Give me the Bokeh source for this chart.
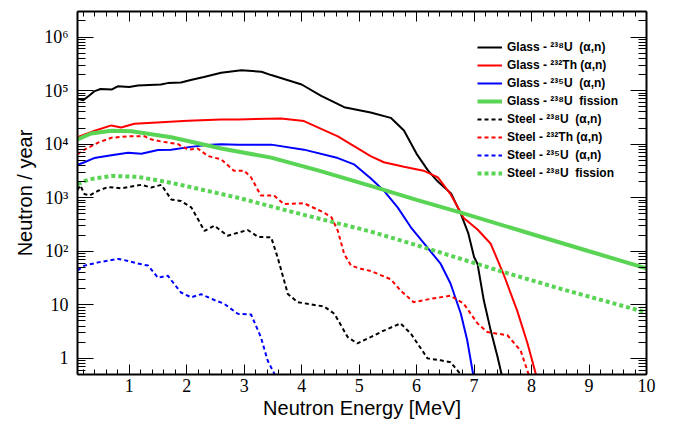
from bokeh.plotting import figure
from bokeh.models import (LogAxis, LinearAxis, FixedTicker, SingleIntervalTicker,
                          CustomJSTickFormatter, Legend, LegendItem, Range1d)
from bokeh.embed import file_html
from bokeh.resources import INLINE

# ---------------- data ----------------
x_limits = [0.1, 10.0]
y_limits = [0.5, 3.0e6]

y_major = [1, 10, 100, 1e3, 1e4, 1e5, 1e6]
y_minor = [m * 10.0 ** k for k in range(-1, 7) for m in range(2, 10)]

glass_u238_e = [0.1, 0.2, 0.3, 0.4, 0.5, 0.7, 0.8, 1.0, 1.15, 1.55, 1.67, 1.9, 2.07, 2.3, 2.6,
                2.95, 3.3, 3.47, 4.0, 4.34, 4.74, 5.2, 5.55, 5.78, 6.0, 6.2, 6.37, 6.6, 6.77,
                6.9, 7.0, 7.06, 7.17, 7.29, 7.41, 7.5]
glass_u238_n = [7.0e4, 6.6e4, 8.0e4, 9.8e4, 1.07e5, 1.05e5, 1.2e5, 1.17e5, 1.25e5, 1.3e5, 1.38e5,
                1.42e5, 1.58e5, 1.8e5, 2.15e5, 2.4e5, 2.25e5, 1.95e5, 1.3e5, 8.0e4, 4.9e4, 3.9e4,
                3.1e4, 1.8e4, 6.6e3, 3.2e3, 2.0e3, 1.2e3, 5.0e2, 2.15e2, 78, 58, 12, 3.3, 1.05, 0.4]

glass_th232_e = [0.1, 0.4, 0.69, 0.86, 1.09, 1.56, 2.02, 2.6, 2.89, 3.64, 4.04, 4.63, 5.2, 5.43,
                 5.78, 6.12, 6.37, 6.59, 6.82, 7.06, 7.29, 7.51, 7.75, 7.93, 8.04, 8.1]
glass_th232_n = [1.35e4, 1.78e4, 2.24e4, 2.04e4, 2.4e4, 2.57e4, 2.75e4, 2.9e4, 2.9e4, 3.0e4, 2.7e4,
                 1.4e4, 6.0e3, 4.6e3, 3.8e3, 3.2e3, 2.4e3, 1.17e3, 4.2e2, 2.55e2, 1.38e2, 38, 7.8,
                 1.9, 0.7, 0.4]

glass_u235_e = [0.1, 0.22, 0.39, 0.69, 0.98, 1.21, 1.5, 1.73, 2.07, 2.42, 2.6, 2.89, 3.47, 4.04,
                4.63, 4.91, 5.2, 5.43, 5.67, 5.9, 6.19, 6.42, 6.59, 6.77, 6.88, 7.0]
glass_u235_n = [4.1e3, 4.6e3, 5.5e3, 6.2e3, 6.9e3, 6.6e3, 7.8e3, 7.9e3, 8.9e3, 9.8e3, 1.0e4, 9.8e3,
                9.8e3, 7.9e3, 5.5e3, 4.2e3, 2.3e3, 1.35e3, 6.6e2, 2.8e2, 1.17e2, 58, 25, 6.8, 2.2, 0.4]

glass_fis_e = [0.1, 0.34, 0.69, 1.04, 1.73, 2.6, 3.47, 4.3, 5.2, 6.0, 6.77, 8.0, 9.0, 10.0]
glass_fis_n = [1.23e4, 1.58e4, 1.78e4, 1.74e4, 1.35e4, 8.3e3, 5.6e3, 3.2e3, 1.66e3, 9.1e2, 5.25e2,
               2.1e2, 1.0e2, 48]

steel_u238_e = [0.1, 0.15, 0.22, 0.31, 0.46, 0.63, 0.86, 1.21, 1.38, 1.56, 1.73, 1.9, 2.08, 2.31,
                2.48, 2.71, 3.06, 3.24, 3.47, 3.58, 3.76, 3.93, 4.39, 4.57, 4.8, 4.97, 5.2, 5.43,
                5.72, 5.9, 6.19, 6.42, 6.59, 6.77, 6.9]
steel_u238_n = [1.4e3, 1.7e3, 1.17e3, 1.1e3, 1.35e3, 1.58e3, 1.5e3, 1.74e3, 1.55e3, 1.74e3, 9.3e2,
                8.7e2, 6.6e2, 2.4e2, 3.0e2, 1.95e2, 2.5e2, 1.86e2, 1.82e2, 78, 16, 11.2, 9.3, 6.8,
                2.5, 1.9, 2.5, 3.3, 4.5, 2.9, 1.0, 0.92, 0.85, 0.5, 0.4]

steel_th232_e = [0.1, 0.22, 0.46, 0.69, 1.03, 1.26, 1.38, 1.56, 1.85, 2.02, 2.19, 2.37, 2.6, 2.82,
                 3.0, 3.12, 3.29, 3.52, 3.69, 4.04, 4.39, 4.52, 4.63, 4.74, 4.86, 5.03, 5.2, 5.55,
                 5.72, 5.95, 6.24, 6.59, 6.82, 7.06, 7.23, 7.58, 7.81, 7.98]
steel_th232_n = [6.5e3, 7.9e3, 1.07e4, 1.32e4, 1.41e4, 1.41e4, 1.23e4, 1.12e4, 1.0e4, 7.9e3, 8.3e3,
                 6.0e3, 5.2e3, 3.2e3, 3.2e3, 2.4e3, 1.1e3, 1.1e3, 7.6e2, 7.9e2, 5.25e2, 4.3e2,
                 2.4e2, 89, 54, 47, 43, 30, 18.6, 11.2, 12.9, 14.8, 10.5, 4.5, 3.1, 2.7, 1.4, 0.4]

steel_u235_e = [0.1, 0.22, 0.46, 0.81, 0.98, 1.15, 1.33, 1.5, 1.67, 1.9, 2.08, 2.25, 2.48, 2.65,
                2.89, 3.12, 3.29, 3.41, 3.58]
steel_u235_n = [44, 54, 62, 72, 66, 59, 54, 32, 35, 17, 13.8, 15.8, 12.3, 10.5, 6.8, 6.6, 2.5,
                0.9, 0.4]

steel_fis_e = [0.1, 0.3, 0.69, 1.15, 1.73, 2.89, 4.0, 5.2, 6.0, 7.51, 8.5, 10.0]
steel_fis_n = [1.8e3, 2.2e3, 2.55e3, 2.45e3, 1.9e3, 1.0e3, 4.9e2, 2.34e2, 1.3e2, 41, 20, 7.2]

labels = ["Glass - \u00b2\u00b3\u2078U  (\u03b1,n)",
          "Glass - \u00b2\u00b3\u00b2Th (\u03b1,n)",
          "Glass - \u00b2\u00b3\u2075U  (\u03b1,n)",
          "Glass - \u00b2\u00b3\u2078U  fission",
          "Steel - \u00b2\u00b3\u2078U  (\u03b1,n)",
          "Steel - \u00b2\u00b3\u00b2Th (\u03b1,n)",
          "Steel - \u00b2\u00b3\u2075U  (\u03b1,n)",
          "Steel - \u00b2\u00b3\u2078U  fission"]

GREEN = "#59d454"

# ---------------- figure ----------------
p = figure(frame_width=569, frame_height=363, y_axis_type="log",
           x_range=Range1d(*x_limits), y_range=Range1d(*y_limits),
           output_backend="svg", toolbar_location=None,
           min_border_left=77, min_border_right=20, min_border_top=11, min_border_bottom=46)
p.grid.visible = False
p.outline_line_color = None
p.background_fill_color = "white"
p.border_fill_color = "white"

serif = "Liberation Serif"
sans = "Liberation Sans"

yfmt = CustomJSTickFormatter(code="""
const sup = {"0":"\u2070","1":"\u00b9","2":"\u00b2","3":"\u00b3","4":"\u2074","5":"\u2075","6":"\u2076","7":"\u2077","8":"\u2078","9":"\u2079","-":"\u207b"};
const e = Math.round(Math.log10(tick));
if (e == 0) return "1";
if (e == 1) return "10";
return "10" + String(e).split("").map(c => sup[c]).join("");
""")
blank = CustomJSTickFormatter(code="return ' ';")

# left axis
ya = p.yaxis[0]
ya.ticker = FixedTicker(ticks=y_major, minor_ticks=y_minor)
ya.formatter = yfmt
ya.axis_label = "Neutron / year"
ya.axis_label_text_font = sans
ya.axis_label_text_font_size = "20px"
ya.axis_label_text_font_style = "normal"
ya.axis_label_text_color = "black"
ya.axis_label_standoff = 5
ya.major_label_text_font = serif
ya.major_label_text_font_size = "18px"
ya.major_label_text_color = "black"
ya.major_label_standoff = 9
ya.major_tick_in = 16
ya.major_tick_out = 0
ya.minor_tick_in = 8
ya.minor_tick_out = 0
ya.axis_line_width = 2
ya.major_tick_line_color = "black"
ya.minor_tick_line_color = "black"

# bottom axis
xa = p.xaxis[0]
xa.ticker = SingleIntervalTicker(interval=1, num_minor_ticks=5)
xa.axis_label = "Neutron Energy [MeV]"
xa.axis_label_text_font = sans
xa.axis_label_text_font_size = "20px"
xa.axis_label_text_font_style = "normal"
xa.axis_label_text_color = "black"
xa.axis_label_standoff = 2
xa.major_label_text_font = serif
xa.major_label_text_font_size = "18px"
xa.major_label_text_color = "black"
xa.major_label_standoff = 4
xa.major_tick_in = 10
xa.major_tick_out = 0
xa.minor_tick_in = 5
xa.minor_tick_out = 0
xa.axis_line_width = 2

# right and top tick-only axes
ra = LogAxis(ticker=FixedTicker(ticks=y_major, minor_ticks=y_minor), formatter=blank,
             major_label_text_font_size="2px", major_label_standoff=0,
             major_tick_in=16, major_tick_out=0, minor_tick_in=8, minor_tick_out=0,
             axis_line_width=2)
p.add_layout(ra, "right")
ta = LinearAxis(ticker=SingleIntervalTicker(interval=1, num_minor_ticks=5), formatter=blank,
                major_label_text_font_size="2px", major_label_standoff=0,
                major_tick_in=10, major_tick_out=0, minor_tick_in=5, minor_tick_out=0,
                axis_line_width=2)
p.add_layout(ta, "above")

# ---------------- curves ----------------
r1 = p.line(glass_u238_e, glass_u238_n, line_color="black", line_width=2)
r2 = p.line(glass_th232_e, glass_th232_n, line_color="red", line_width=2)
r3 = p.line(glass_u235_e, glass_u235_n, line_color="blue", line_width=2)
r4 = p.line(glass_fis_e, glass_fis_n, line_color=GREEN, line_width=4)
r5 = p.line(steel_u238_e, steel_u238_n, line_color="black", line_width=2, line_dash="4 3")
r6 = p.line(steel_th232_e, steel_th232_n, line_color="red", line_width=2, line_dash="4 3")
r7 = p.line(steel_u235_e, steel_u235_n, line_color="blue", line_width=2, line_dash="4 3")
r8 = p.line(steel_fis_e, steel_fis_n, line_color=GREEN, line_width=4, line_dash="4 3")

items = [LegendItem(label=l, renderers=[r]) for l, r in
         zip(labels, [r1, r2, r3, r4, r5, r6, r7, r8])]
legend = Legend(items=items, location=(400, 192), padding=1, margin=0, spacing=0,
                border_line_color=None, background_fill_alpha=0,
                label_text_font=sans, label_text_font_style="bold",
                label_text_font_size="12px", label_text_color="black",
                label_height=18, glyph_height=18,
                glyph_width=25, label_standoff=5)
p.add_layout(legend)

open("out.html", "w").write(file_html(p, INLINE))
